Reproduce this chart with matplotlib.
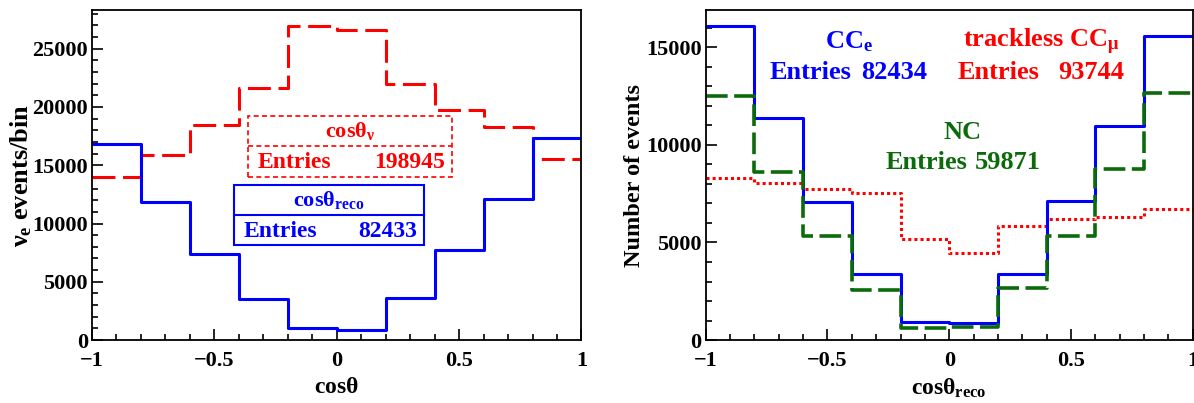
import matplotlib
matplotlib.use("Agg")
from matplotlib import pyplot as plt
from matplotlib.ticker import MultipleLocator
from matplotlib.patches import Rectangle
import numpy as np

plt.rcParams['font.family'] = ['Liberation Serif', 'DejaVu Serif']
plt.rcParams['font.weight'] = 'bold'
plt.rcParams['axes.labelweight'] = 'bold'
plt.rcParams['mathtext.fontset'] = 'custom'
plt.rcParams['mathtext.rm'] = 'Liberation Serif:bold'
plt.rcParams['mathtext.it'] = 'Liberation Serif:bold'
plt.rcParams['mathtext.bf'] = 'Liberation Serif:bold'

# 直方图分箱
edges = np.linspace(-1, 1, 11)

# 左图: 真实方向和重建方向
true_counts = [13960, 15900, 18460, 21620, 26960, 26620, 21960, 19740, 18260, 15500]
reco_counts = [16840, 11860, 7370, 3530, 1000, 910, 3640, 7770, 12120, 17350]

# 右图: 各事例类型
cce_counts = [16100, 11360, 7060, 3370, 940, 890, 3400, 7140, 10970, 15580]
nc_counts = [12480, 8600, 5310, 2590, 630, 660, 2690, 5340, 8760, 12650]
trk_counts = [8280, 8060, 7760, 7550, 5190, 4460, 5820, 6210, 6330, 6700]

GREEN = '#0b6b0b'


def step_hist(ax, counts, **kw):
    y = np.append(counts, counts[-1])
    ax.step(edges, y, where='post', **kw)


def style_axes(ax, ymax, ymajor):
    ax.set_xlim(-1, 1)
    ax.set_ylim(0, ymax)
    ax.xaxis.set_major_locator(MultipleLocator(0.5))
    ax.xaxis.set_minor_locator(MultipleLocator(0.1))
    ax.yaxis.set_major_locator(MultipleLocator(ymajor))
    ax.yaxis.set_minor_locator(MultipleLocator(1000))
    ax.tick_params(which='both', direction='in', top=False, right=False,
                   width=1.2, labelsize=16)
    ax.tick_params(which='major', length=8)
    ax.tick_params(which='minor', length=4)
    ax.tick_params(axis='x', pad=8)
    ax.tick_params(axis='y', pad=3)
    for s in ax.spines.values():
        s.set_linewidth(1.3)
    ax.set_xticks([-1, -0.5, 0, 0.5, 1])
    ax.set_xticklabels(['\u22121', '\u22120.5', '0', '0.5', '1'])


fig = plt.figure(figsize=(11.94, 4.03), dpi=100)
ax1 = fig.add_axes([0.077, 0.156, 0.410, 0.819])
ax2 = fig.add_axes([0.591, 0.156, 0.408, 0.819])

# ---- 左图
step_hist(ax1, true_counts, color='red', lw=2.2, dashes=(7.5, 2.5))
step_hist(ax1, reco_counts, color='blue', lw=2.2)
style_axes(ax1, 28300, 5000)
ax1.set_xlabel(r'cos$\theta$', fontsize=17, va='top')
ax1.xaxis.set_label_coords(0.5, -0.112)
ax1.set_ylabel(r'$\nu_{e}$ events/bin', fontsize=19)
ax1.yaxis.set_label_coords(-0.118, 0.5)

# 统计框
tr = ax1.transAxes
def px(x, y):
    return ((x - 92) / 490.0, (340 - y) / 330.0)

x0, y0 = px(248, 177)
x1, y1 = px(452, 116)
ax1.add_patch(Rectangle((x0, y0), x1 - x0, y1 - y0, transform=tr, fill=False,
                        ec='red', lw=1.2, ls=(0, (3, 2))))
ym = px(0, 146)[1]
ax1.plot([x0, x1], [ym, ym], transform=tr, color='red', lw=1.2, ls=(0, (3, 2)))
ax1.text((x0 + x1) / 2, px(0, 131)[1], r'cos$\theta_{\nu}$', transform=tr,
         color='red', fontsize=16, ha='center', va='center')
ax1.text(px(258, 0)[0], px(0, 162)[1], 'Entries', transform=tr, color='red',
         fontsize=17, ha='left', va='center')
ax1.text(px(445, 0)[0], px(0, 162)[1], '198945', transform=tr, color='red',
         fontsize=17, ha='right', va='center')

x0, y0 = px(234, 245)
x1, y1 = px(424, 185)
ax1.add_patch(Rectangle((x0, y0), x1 - x0, y1 - y0, transform=tr,
                        fc='white', ec='blue', lw=1.5))
ym = px(0, 215)[1]
ax1.plot([x0, x1], [ym, ym], transform=tr, color='blue', lw=1.5)
ax1.text((x0 + x1) / 2, px(0, 200)[1], r'cos$\theta_{\rm reco}$', transform=tr,
         color='blue', fontsize=16, ha='center', va='center')
ax1.text(px(244, 0)[0], px(0, 231)[1], 'Entries', transform=tr, color='blue',
         fontsize=17, ha='left', va='center')
ax1.text(px(417, 0)[0], px(0, 231)[1], '82433', transform=tr, color='blue',
         fontsize=17, ha='right', va='center')

# ---- 右图
step_hist(ax2, trk_counts, color='red', lw=2.2, dashes=(1, 1))
step_hist(ax2, cce_counts, color='blue', lw=2.2)
step_hist(ax2, nc_counts, color=GREEN, lw=2.6, dashes=(6, 1.8))
style_axes(ax2, 16900, 5000)
ax2.set_xlabel(r'cos$\theta_{\rm reco}$', fontsize=17, va='top')
ax2.xaxis.set_label_coords(0.5, -0.112)
ax2.set_ylabel('Number of events', fontsize=17.5)
ax2.yaxis.set_label_coords(-0.124, 0.5)

t2 = ax2.transAxes
def px2(x, y):
    return ((x - 706) / 486.0, (340 - y) / 330.0)

fs = 19
ax2.text(*px2(849, 42), r'CC$_{\rm e}$', transform=t2, color='blue',
         fontsize=fs, ha='center', va='center')
ax2.text(*px2(770, 72), 'Entries', transform=t2, color='blue',
         fontsize=fs, ha='left', va='center')
ax2.text(*px2(927, 72), '82434', transform=t2, color='blue',
         fontsize=fs, ha='right', va='center')
ax2.text(*px2(1041, 42), r'trackless CC$_{\mu}$', transform=t2, color='red',
         fontsize=fs, ha='center', va='center')
ax2.text(*px2(957, 72), 'Entries', transform=t2, color='red',
         fontsize=fs, ha='left', va='center')
ax2.text(*px2(1124, 72), '93744', transform=t2, color='red',
         fontsize=fs, ha='right', va='center')
ax2.text(*px2(962, 132), 'NC', transform=t2, color=GREEN,
         fontsize=fs, ha='center', va='center')
ax2.text(*px2(885, 162), 'Entries', transform=t2, color=GREEN,
         fontsize=fs, ha='left', va='center')
ax2.text(*px2(1040, 162), '59871', transform=t2, color=GREEN,
         fontsize=fs, ha='right', va='center')

fig.savefig('out.png', dpi=100)
